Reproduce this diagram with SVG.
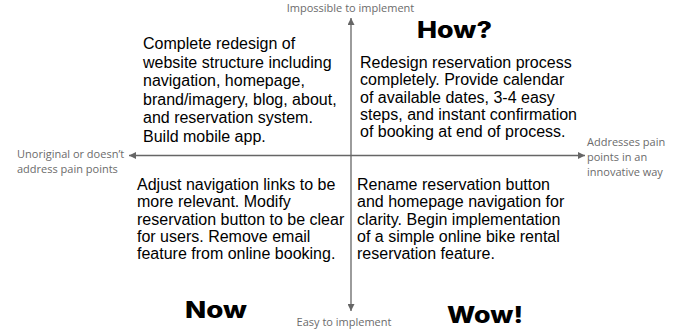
<svg xmlns="http://www.w3.org/2000/svg" width="683" height="330" viewBox="0 0 683 330">
<defs>
<marker id="ah" viewBox="0 0 10 10" refX="10" refY="5" markerWidth="7" markerHeight="7" markerUnits="userSpaceOnUse" orient="auto">
<path d="M0,0 L10,5 L0,10 z" fill="#666"/>
</marker>
<style>
.ax{stroke:#666;stroke-width:1.3;fill:none}
.lbl{font-family:"Open Sans","Noto Sans",sans-serif;font-size:11px;fill:#6b6b6b}
.body{font-family:"Liberation Sans",Arial,sans-serif;font-size:16px;fill:#000}
.big{font-family:Inter,"Liberation Sans",sans-serif;font-weight:800;font-size:23px;fill:#000}
</style>
</defs>
<rect width="683" height="330" fill="#fff"/>
<g id="connectors">
<line class="ax" x1="351" y1="155.5" x2="351" y2="18" marker-end="url(#ah)"/>
<line class="ax" x1="351" y1="155.5" x2="351" y2="311" marker-end="url(#ah)"/>
<line class="ax" x1="351" y1="155.5" x2="129" y2="155.5" marker-end="url(#ah)"/>
<line class="ax" x1="351" y1="155.5" x2="585" y2="155.5" marker-end="url(#ah)"/>
</g>
<g id="label-top"><text class="lbl" x="350.5" y="12" text-anchor="middle">Impossible to implement</text></g>
<g id="label-bottom"><text class="lbl" x="344" y="326" text-anchor="middle">Easy to implement</text></g>
<g id="label-left"><text class="lbl" x="17" y="158">Unoriginal or doesn’t</text><text class="lbl" x="17" y="173">address pain points</text></g>
<g id="label-right"><text class="lbl" x="587" y="146">Addresses pain</text><text class="lbl" x="587" y="161">points in an</text><text class="lbl" x="587" y="176">innovative way</text></g>
<g id="title-how"><text class="big" x="417" y="38" textLength="75" lengthAdjust="spacingAndGlyphs">How?</text></g>
<g id="title-now"><text class="big" x="185" y="318" textLength="62" lengthAdjust="spacingAndGlyphs">Now</text></g>
<g id="title-wow"><text class="big" x="447" y="323" textLength="76" lengthAdjust="spacingAndGlyphs">Wow!</text></g>
<g id="q-top-left"><text class="body">
<tspan x="143" y="49">Complete redesign of</tspan>
<tspan x="143" y="67.5">website structure including</tspan>
<tspan x="143" y="86">navigation, homepage,</tspan>
<tspan x="143" y="104.5">brand/imagery, blog, about,</tspan>
<tspan x="143" y="123">and reservation system.</tspan>
<tspan x="143" y="141.5">Build mobile app.</tspan>
</text></g>
<g id="q-top-right"><text class="body">
<tspan x="360" y="68">Redesign reservation process</tspan>
<tspan x="360" y="85.3">completely. Provide calendar</tspan>
<tspan x="360" y="102.6">of available dates, 3-4 easy</tspan>
<tspan x="360" y="119.9">steps, and instant confirmation</tspan>
<tspan x="360" y="137.2">of booking at end of process.</tspan>
</text></g>
<g id="q-bottom-left"><text class="body">
<tspan x="137" y="190">Adjust navigation links to be</tspan>
<tspan x="137" y="207.3">more relevant. Modify</tspan>
<tspan x="137" y="224.6">reservation button to be clear</tspan>
<tspan x="137" y="241.9">for users. Remove email</tspan>
<tspan x="137" y="259.2">feature from online booking.</tspan>
</text></g>
<g id="q-bottom-right"><text class="body">
<tspan x="357" y="190">Rename reservation button</tspan>
<tspan x="357" y="207.3">and homepage navigation for</tspan>
<tspan x="357" y="224.6">clarity. Begin implementation</tspan>
<tspan x="357" y="241.9">of a simple online bike rental</tspan>
<tspan x="357" y="259.2">reservation feature.</tspan>
</text></g>
</svg>
